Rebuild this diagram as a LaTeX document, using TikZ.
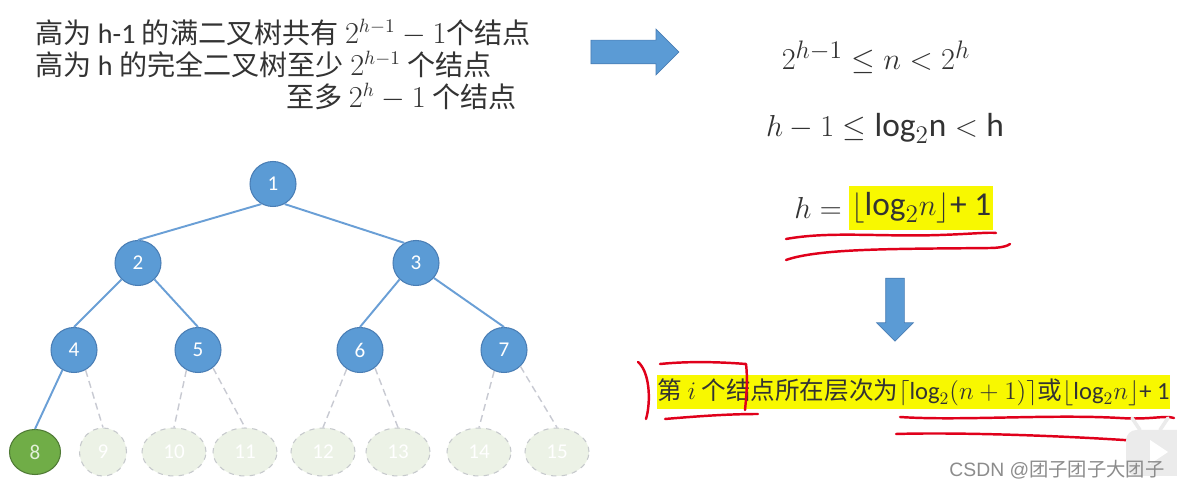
\documentclass[tikz,border=0pt]{standalone}
\usepackage{amsmath}
\usepackage{fontspec}
\setmainfont{Carlito}
\newfontfamily\cjk{Noto Sans CJK SC}
\newfontfamily\wmfont{Liberation Sans}
\usetikzlibrary{shapes.geometric,shapes.arrows,positioning}

\definecolor{nodeblue}{HTML}{5B9BD5}
\definecolor{nodeline}{HTML}{4A7EB5}
\definecolor{edgeblue}{HTML}{6A9FD6}
\definecolor{nodegreen}{HTML}{70AD47}
\definecolor{greenline}{HTML}{4F7A35}
\definecolor{greentext}{HTML}{E2F0D9}
\definecolor{faintfill}{HTML}{ECF2E6}
\definecolor{faintline}{HTML}{C6C9CC}
\definecolor{dashgray}{HTML}{C8CAD2}
\definecolor{hlyellow}{HTML}{F8F800}
\definecolor{penred}{HTML}{E0001B}
\definecolor{wmgray}{HTML}{8C8C8C}
\definecolor{ink}{HTML}{333333}

\tikzset{
  tnode/.style={ellipse, draw=nodeline, line width=0.6pt, fill=nodeblue, text=white,
    minimum width=0.92cm, minimum height=0.9cm, inner sep=0pt, font=\fontsize{12}{14}\selectfont},
  gnode/.style={tnode, draw=greenline, fill=nodegreen, text=greentext, minimum width=1.02cm},
  fnode/.style={ellipse, draw=faintline, dashed, line width=0.6pt, fill=faintfill, text=white,
    minimum width=1.28cm, minimum height=0.96cm, inner sep=0pt, font=\fontsize{12}{14}\selectfont},
  tedge/.style={draw=edgeblue, line width=1.1pt},
  dedge/.style={draw=dashgray, line width=0.8pt, dash pattern=on 4pt off 2.5pt},
  redpen/.style={draw=penred, line width=1.4pt, line cap=round, line join=round},
  bigarrow/.style={single arrow, draw=nodeline, line width=0.4pt, fill=nodeblue},
  txt/.style={inner sep=0pt, anchor=west, text=ink, font=\fontsize{16}{19}\selectfont},
  fml/.style={inner sep=0pt, text=ink, font=\fontsize{19}{22}\selectfont},
}

\begin{document}
\begin{tikzpicture}[x=0.02cm, y=-0.02cm]

\fill[white] (0,0) rectangle (1177,489);
\useasboundingbox (0,0) rectangle (1177,489);

\node[txt] (l1) at (35,33) {{\cjk 高为} h-1 {\cjk 的满二叉树共有} $2^{h-1}-1${\cjk 个结点}};
\node[txt] (l2) at (35,64) {{\cjk 高为} h {\cjk 的完全二叉树至少} $2^{h-1}$ {\cjk 个结点}};
\node[txt] (l3) at (286,97) {{\cjk 至多} $2^h-1$ {\cjk 个结点}};

\node[bigarrow, minimum height=1.76cm, minimum width=0.9cm, inner sep=0.23cm,
  single arrow head extend=0.22cm] (rarr) at (629,52) {};

\node[fml] (f1) at (876,57) {$2^{h-1}\le n<2^h$};
\node[fml] (f2) at (885,128) {$h-1\le\text{log}_2\text{n}<\mathrm{h}$};
\node[fml, anchor=east] (f3a) at (842,208) {$h=$};
\node[fml, anchor=west, fill=hlyellow, inner xsep=1pt, minimum height=0.88cm] (f3b) at (849,208)
  {$\lfloor\text{log}_2n\rfloor$+ 1};

\draw[redpen] (786,239) .. controls (830,231) and (880,237) .. (940,235) .. controls (970,234) and (990,232) .. (996,233);
\draw[redpen] (786,260) .. controls (820,248) and (900,249) .. (990,248) .. controls (1000,248) and (1008,246) .. (1010,244);

\node[bigarrow, minimum height=1.26cm, minimum width=0.72cm, inner sep=0.18cm,
  single arrow head extend=0.18cm, shape border rotate=270] (darr) at (895,305) {};

\node[inner sep=0pt, anchor=west, fill=hlyellow, text=ink, minimum height=0.68cm,
  font=\fontsize{14}{16}\selectfont] (q) at (657,392)
  {{\cjk 第} $i$ {\cjk 个结点所在层次为}$\lceil\text{log}_2(n+1)\rceil${\cjk 或}$\lfloor\text{log}_2n\rfloor$+ 1};

\draw[redpen] (638,362) .. controls (650,372) and (651,402) .. (646,419);
\draw[redpen] (660,364) .. controls (690,361) and (720,362) .. (746,364) .. controls (748,380) and (746,400) .. (745,410);
\draw[redpen] (665,419) .. controls (700,416) and (730,414) .. (758,414);
\draw[redpen] (900,417) .. controls (960,421) and (1050,414) .. (1120,418) .. controls (1150,420) and (1165,415) .. (1174,418);
\draw[redpen] (896,434) .. controls (960,432) and (1080,436) .. (1165,443);

\node[tnode] (n1) at (273,184) {1};
\node[tnode] (n2) at (138,263) {2};
\node[tnode] (n3) at (416,263) {3};
\node[tnode] (n4) at (74,350) {4};
\node[tnode] (n5) at (198,350) {5};
\node[tnode] (n6) at (360,350) {6};
\node[tnode] (n7) at (504,350) {7};

\node[gnode] (n8) at (35,452) {8};
\node[fnode, minimum width=0.94cm] (n9) at (103,452) {9};
\node[fnode] (n10) at (174,452) {10};
\node[fnode] (n11) at (245,452) {11};
\node[fnode] (n12) at (323,452) {12};
\node[fnode] (n13) at (398,452) {13};
\node[fnode] (n14) at (479,452) {14};
\node[fnode] (n15) at (557,452) {15};

\draw[tedge] (n1.-120) -- (n2.north);
\draw[tedge] (n1.-60) -- (n3.120);
\draw[tedge] (n2.-135) -- (n4.north);
\draw[tedge] (n2.-45) -- (n5.north);
\draw[tedge] (n3.-135) -- (n6.north);
\draw[tedge] (n3.-40) -- (n7.north);
\draw[tedge] (n4.-120) -- (n8.north);

\draw[dedge] (n4.-60) -- (n9.north);
\draw[dedge] (n5.-120) -- (n10.north);
\draw[dedge] (n5.-50) -- (n11.north);
\draw[dedge] (n6.-125) -- (n12.north);
\draw[dedge] (n6.-50) -- (n13.north);
\draw[dedge] (n7.-115) -- (n14.north);
\draw[dedge] (n7.-45) -- (n15.north);

\fill[black!8, rounded corners=6pt] (1126,430) rectangle (1190,476);
\draw[black!8, line width=2pt, line cap=round] (1140,430) -- (1132,418) (1160,430) -- (1168,418);
\fill[white] (1150,440) -- (1168,452) -- (1150,464) -- cycle;

\node[text=wmgray, inner sep=0pt, font=\wmfont\fontsize{11}{13}\selectfont] (wm) at (1057,470)
  {CSDN @{\cjk 团子团子大团子}};

\end{tikzpicture}
\end{document}
